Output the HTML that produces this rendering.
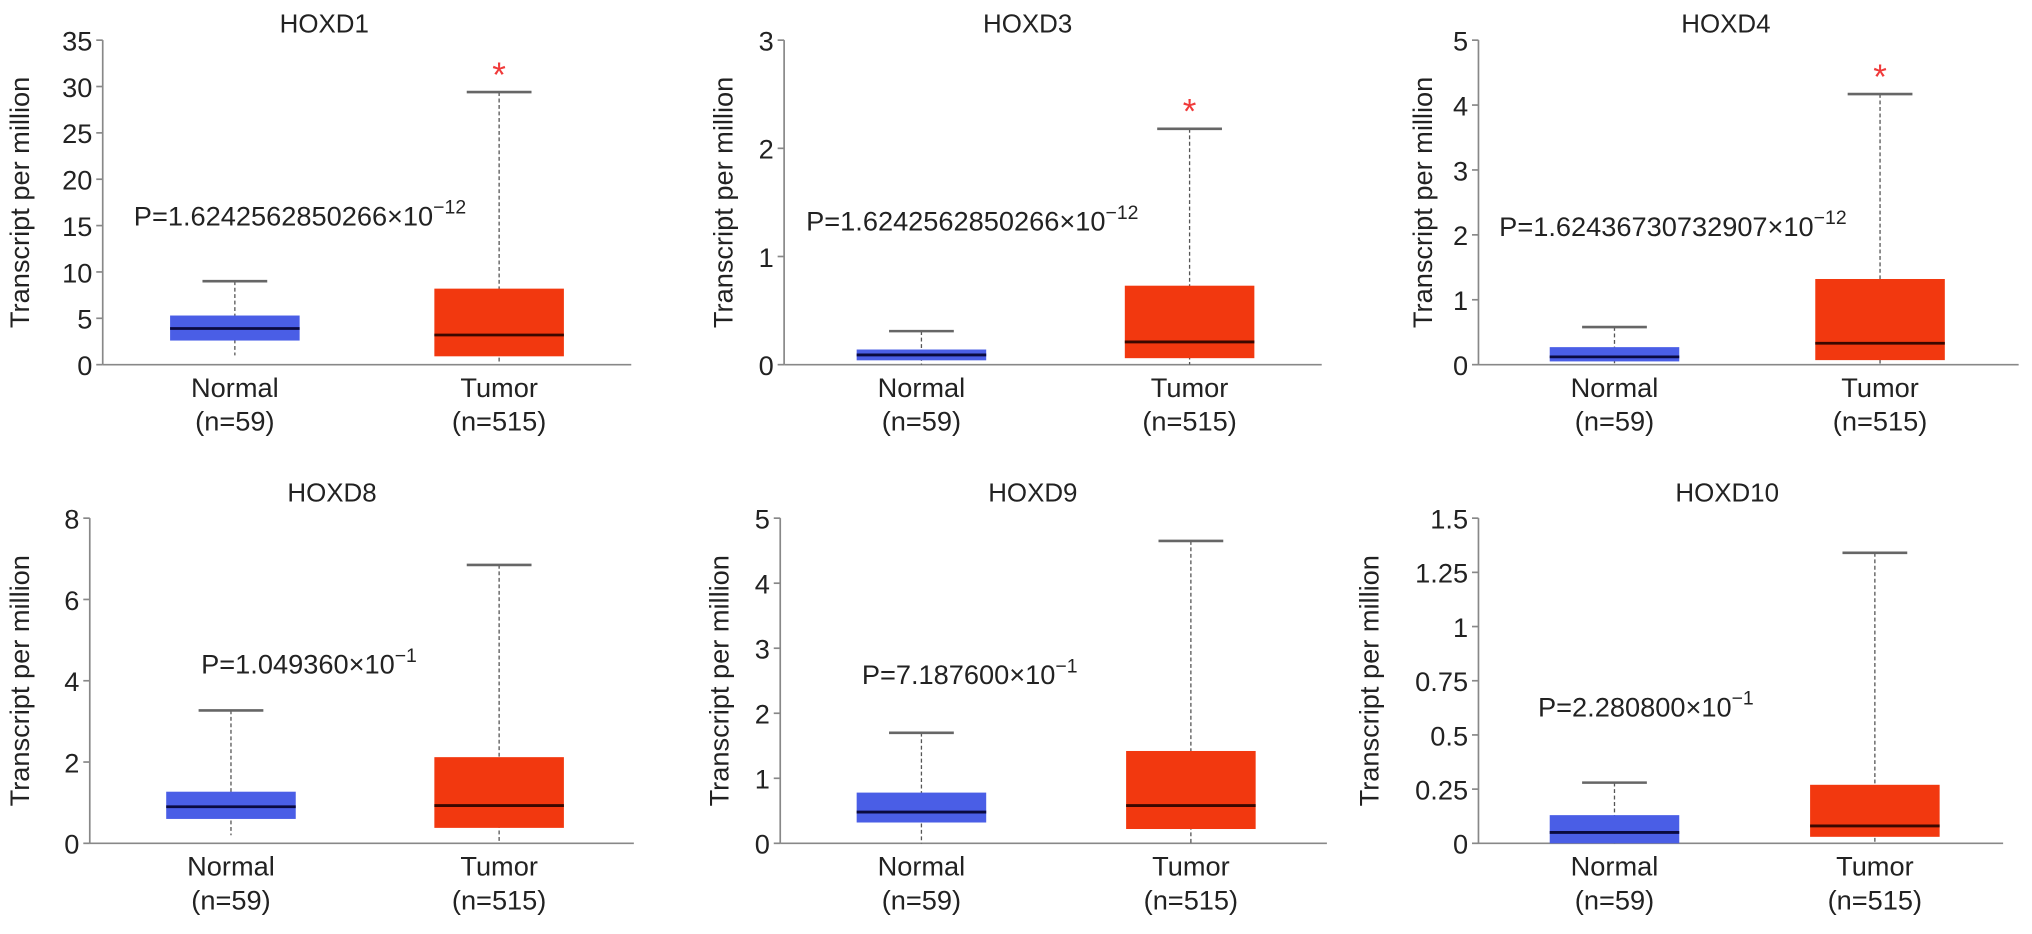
<!DOCTYPE html>
<html><head><meta charset="utf-8"><style>
html,body{margin:0;padding:0;background:#fff;}
svg{display:block;font-family:"Liberation Sans",Arial,sans-serif;}
</style></head><body>
<svg id="fig" width="2032" height="934" viewBox="0 0 1568 721" xmlns="http://www.w3.org/2000/svg"></svg>
<script>
// data arrays
const genes = ["HOXD1","HOXD3","HOXD4","HOXD8","HOXD9","HOXD10"];
const categories = ["Normal","Tumor"];
const sampleSizes = ["(n=59)","(n=515)"];
const yMax = [35,3,5,8,5,1.5];
const yTicks = [[0,5,10,15,20,25,30,35],[0,1,2,3],[0,1,2,3,4,5],[0,2,4,6,8],[0,1,2,3,4,5],[0,0.25,0.5,0.75,1,1.25,1.5]];
// [low, q1, median, q3, high]
const normalStats = [[1.0,2.6,3.9,5.3,9.0],[0,0.04,0.09,0.14,0.31],[0,0.05,0.12,0.27,0.58],[0.2,0.6,0.9,1.27,3.27],[0,0.32,0.48,0.78,1.7],[0,0,0.05,0.13,0.28]];
const tumorStats = [[0.2,0.9,3.2,8.2,29.4],[0,0.06,0.21,0.73,2.18],[0,0.07,0.33,1.32,4.17],[0,0.38,0.93,2.12,6.85],[0,0.22,0.58,1.42,4.65],[0,0.03,0.08,0.27,1.34]];
const pMant = ["1.6242562850266","1.6242562850266","1.62436730732907","1.049360","7.187600","2.280800"];
const pExp = ["\u221212","\u221212","\u221212","\u22121","\u22121","\u22121"];
const significant = [true,true,true,false,false,false];

// layout (viewBox units)
const L = [
 {ax:79,  x1:487, top:31, zero:281.5, c:[181,385], tx:250, ty:25, yt:22, px:103, py:174},
 {ax:605, x1:1020,top:31, zero:281.5, c:[711,918], tx:793, ty:25, yt:565, px:622, py:178},
 {ax:1141,x1:1558,top:31, zero:281.5, c:[1246,1451], tx:1332, ty:25, yt:1105, px:1157, py:182},
 {ax:69,  x1:489, top:400,zero:651, c:[178,385], tx:256, ty:387, yt:22, px:155, py:520},
 {ax:602, x1:1024,top:400,zero:651, c:[711,919], tx:797, ty:387, yt:562, px:665, py:528},
 {ax:1141,x1:1546,top:400,zero:651, c:[1246,1447], tx:1333, ty:387, yt:1064, px:1187, py:553}
];
const NS="http://www.w3.org/2000/svg";
const svg=document.getElementById('fig');
function mk(tag,attrs,parent){const e=document.createElementNS(NS,tag);for(const k in attrs)e.setAttribute(k,attrs[k]);(parent||svg).appendChild(e);return e;}
const fills=["#4a5ee6","#f2380f"];
genes.forEach((g,i)=>{
  const l=L[i];
  const grp=mk('g',{});
  
  
  const y=v=>l.zero-(v/yMax[i])*(l.zero-l.top);
  const t=mk('text',{x:l.tx,y:l.ty,'text-anchor':'middle','font-size':20,fill:'#222'},grp);t.textContent=g;
  
  
  const ya=mk('line',{x1:l.ax,y1:l.top,x2:l.ax,y2:l.zero,stroke:'#888','stroke-width':1.3},grp);
  
  
  const xa=mk('line',{x1:l.ax,y1:l.zero,x2:l.x1,y2:l.zero,stroke:'#888','stroke-width':1.3},grp);
  
  
  yTicks[i].forEach(v=>{
    mk('line',{x1:l.ax-5,y1:y(v),x2:l.ax,y2:y(v),stroke:'#888','stroke-width':1.3},grp);
    const tl=mk('text',{x:l.ax-8,y:y(v)+8,'text-anchor':'end','font-size':21,fill:'#222'},grp);tl.textContent=String(v);
    
    
  });
  const ytl=mk('text',{x:l.yt,y:(l.top+l.zero)/2,'text-anchor':'middle','font-size':21,fill:'#222',transform:`rotate(-90 ${l.yt} ${(l.top+l.zero)/2})`},grp);
  ytl.textContent='Transcript per million';
  
  
  [normalStats[i],tumorStats[i]].forEach((s,k)=>{
    const c=l.c[k];
    const w=mk('line',{x1:c,y1:y(s[4]),x2:c,y2:y(s[0]),stroke:'#555','stroke-width':1,'stroke-dasharray':'3,2'},grp);
    
    
    const cap=mk('line',{x1:c-25,y1:y(s[4]),x2:c+25,y2:y(s[4]),stroke:'#666','stroke-width':2},grp);
    
    
    const b=mk('rect',{x:c-50,y:y(s[3]),width:100,height:Math.max(1,y(s[1])-y(s[3])),fill:fills[k]},grp);
    
    
    const m=mk('line',{x1:c-50,y1:y(s[2]),x2:c+50,y2:y(s[2]),stroke:k?'#3a0800':'#0a0a40','stroke-width':2.2},grp);
    
    
    const cl=mk('text',{x:c,y:l.zero+25,'text-anchor':'middle','font-size':21,fill:'#222'},grp);cl.textContent=categories[k];
    
    
    const nl=mk('text',{x:c,y:l.zero+51,'text-anchor':'middle','font-size':21,fill:'#222'},grp);nl.textContent=sampleSizes[k];
    
    
    if(k===1&&significant[i]){
      const a=mk('text',{x:c,y:y(s[4])-4,'text-anchor':'middle','font-size':27,fill:'#f03a3a'},grp);a.textContent='*';
      
      
    }
  });
  const p=mk('text',{x:l.px,y:l.py,'font-size':21,fill:'#222'},grp);
  
  
  const t1=mk('tspan',{},p);t1.textContent='P='+pMant[i]+'\u00d710';
  const t2=mk('tspan',{dy:-9,'font-size':15},p);t2.textContent=pExp[i];
});
</script>
</body></html>
